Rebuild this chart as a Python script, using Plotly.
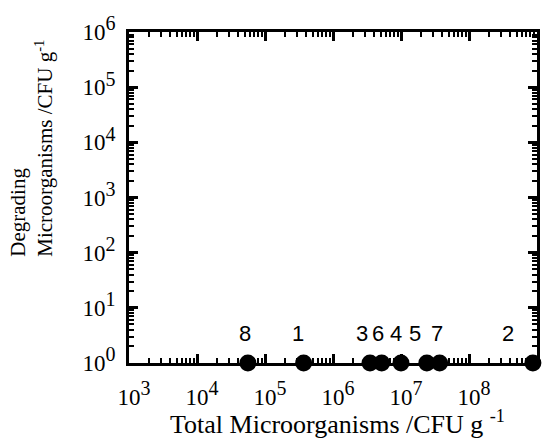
import numpy as np
import plotly.graph_objects as go

# Data
sample_labels = ["8", "1", "3", "6", "4", "5", "7", "2"]
total_cfu = [5.6e4, 3.7e5, 3.5e6, 5.2e6, 1.0e7, 2.4e7, 3.7e7, 8.7e8]
degrading_cfu = [1, 1, 1, 1, 1, 1, 1, 1]
label_xshift = [-3, -6, -8, -4, -5, -12, -3, -25]

x_exponents = list(range(3, 10))
y_exponents = list(range(0, 7))
x_tickvals = [10**k for k in x_exponents]
y_tickvals = [10**k for k in y_exponents]
SUP = "<sup><span style='font-size:20px'>{}</span></sup>"
x_ticktext = ["10" + SUP.format(k) for k in x_exponents]
y_ticktext = ["10" + SUP.format(k) for k in y_exponents]

minor_x = [m * 10**k for k in range(3, 9) for m in range(2, 10)]
minor_y = [m * 10**k for k in range(0, 6) for m in range(2, 10)]

serif = "Liberation Serif, Times New Roman, serif"
sans = "Liberation Sans, Arial, sans-serif"

fig = go.Figure()
fig.add_trace(go.Scatter(
    x=total_cfu, y=degrading_cfu, mode="markers",
    marker=dict(color="black", size=17, symbol="circle"),
    cliponaxis=False, showlegend=False,
))

for lab, xv, yv, dx in zip(sample_labels, total_cfu, degrading_cfu, label_xshift):
    fig.add_annotation(
        x=np.log10(xv), y=np.log10(yv), text=lab, showarrow=False,
        xshift=dx, yshift=30, font=dict(family=sans, size=22, color="black"),
    )

axis_common = dict(
    showgrid=False, zeroline=False, showline=True, linecolor="black",
    linewidth=3, mirror="ticks", ticks="inside", ticklen=9, tickwidth=2.5,
    tickcolor="black", tickfont=dict(family=serif, size=23, color="black"),
    automargin=False,
)

fig.update_xaxes(
    type="log", range=[3, 9], tickvals=x_tickvals, ticktext=x_ticktext,
    minor=dict(tickvals=minor_x, ticks="inside", ticklen=5, tickwidth=2, tickcolor="black"),
    ticklabelstandoff=11, ticklabelshift=5,
    **axis_common,
)
fig.update_yaxes(
    type="log", range=[0, 6], tickvals=y_tickvals, ticktext=y_ticktext,
    minor=dict(tickvals=minor_y, ticks="inside", ticklen=5, tickwidth=2, tickcolor="black"),
    ticklabelstandoff=6,
    **axis_common,
)

fig.add_annotation(
    xref="paper", yref="paper", x=-0.238, y=0.65, xanchor="center", yanchor="middle",
    text="Degrading<br>Microorganisms /CFU g<sup>-1</sup>", showarrow=False,
    textangle=-90, align="left", font=dict(family=serif, size=21, color="black"),
)
fig.add_annotation(
    xref="paper", yref="paper", x=0.51, y=-0.18, xanchor="center", yanchor="middle",
    text="Total Microorganisms /CFU g <sup>-1</sup>", showarrow=False,
    font=dict(family=serif, size=26, color="black"),
)

fig.update_layout(
    width=552, height=441,
    margin=dict(l=129, r=15, t=32, b=78),
    paper_bgcolor="white", plot_bgcolor="white",
)

fig.write_html(
    "out.html",
    config={"displayModeBar": False},
    post_script="document.body.style.margin='0';document.body.style.overflow='hidden';",
)
